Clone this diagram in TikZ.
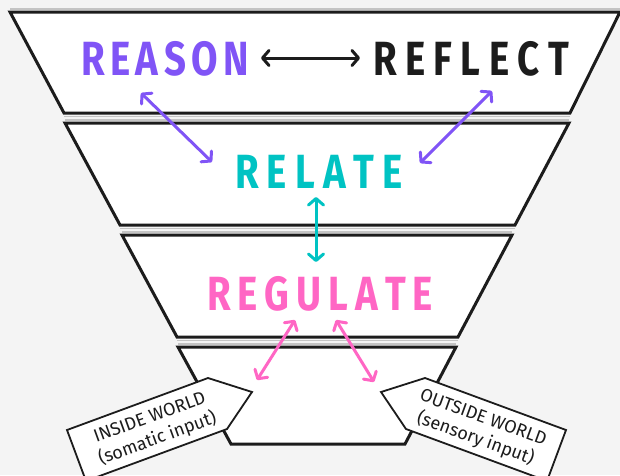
\documentclass[tikz,border=0pt]{standalone}
\usepackage{fontspec}
\usepackage{graphicx}
\usetikzlibrary{arrows.meta}
\newfontfamily\bigfont{Fira Sans}
\newfontfamily\tagfont{Fira Sans}
\definecolor{bgc}{HTML}{F4F4F4}
\definecolor{ink}{HTML}{1C1C1C}
\definecolor{cpurple}{HTML}{8054F6}
\definecolor{cteal}{HTML}{00C3C3}
\definecolor{cpink}{HTML}{FF66C4}
\definecolor{shade}{HTML}{C4C4C4}
\def\gobbleone#1{}
\def\firstone#1{#1}
\def\spl#1#2{\ifx\relax#2\expandafter\gobbleone\else\expandafter\firstone\fi{\scalebox{#1}[1]{#2}\hfill\spl{#1}}}
\newcommand\spw[3]{\hbox to #1{\spl{#2}#3\relax\unskip}}
\begin{document}
\begin{tikzpicture}[x=1pt,y=-1pt,
  band/.style={draw=ink,fill=white,line width=3pt,line join=miter},
  shadeline/.style={draw=shade,line width=1.2pt},
  lbl/.style={inner sep=0pt,outer sep=0pt,anchor=center,font=\bigfont\bfseries\fontsize{48}{48}\selectfont},
  arr/.style={line width=3pt,line cap=round,arrows={Straight Barb[round,length=6.5pt,width=15pt]-Straight Barb[round,length=6.5pt,width=15pt]}},
  tagbox/.style={draw=ink,fill=white,line width=1.8pt,line join=miter},
  tagtxt/.style={align=center,inner sep=0pt,text=ink,font=\tagfont\fontsize{18}{22.5}\selectfont}]
\useasboundingbox (0,0) rectangle (620,475);
\fill[bgc] (0,0) rectangle (620,475);
\clip (0,0) rectangle (620,475);
% shade lines
\draw[shadeline] (10,9) -- (620,9);
\draw[shadeline] (64,116.5) -- (570,116.5);
\draw[shadeline] (65,120) -- (569,120);
\draw[shadeline] (120,228.5) -- (515,228.5);
\draw[shadeline] (122,232) -- (512,232);
\draw[shadeline] (177,340.5) -- (458,340.5);
\draw[shadeline] (178,344) -- (456,344);
% funnel bands
\draw[band] (10,12) -- (620,12) -- (570,113) -- (64,113) -- cycle;
\draw[band] (65,123) -- (569,123) -- (515,225) -- (120,225) -- cycle;
\draw[band] (122,235) -- (512,235) -- (458,337) -- (177,337) -- cycle;
\draw[band] (178,347) -- (456,347) -- (405,444) -- (231,444) -- cycle;
% labels
\node[lbl,text=cpurple] (reason) at (165,58.5) {\spw{168pt}{0.8}{REASON}};
\node[lbl,text=ink] (reflect) at (471,58.5) {\spw{196pt}{0.8}{REFLECT}};
\node[lbl,text=cteal] (relate) at (319,171.5) {\spw{168pt}{0.8}{RELATE}};
\node[lbl,text=cpink] (regulate) at (320,293.5) {\spw{226pt}{0.8}{REGULATE}};
% arrow end points
\coordinate (rs1) at (261,58);
\coordinate (rf1) at (360,58);
\coordinate (rs2) at (141,93);
\coordinate (rl1) at (212,162);
\coordinate (rf2) at (492,91);
\coordinate (rl2) at (420,163);
\coordinate (rl3) at (316,197);
\coordinate (rg1) at (316,262);
\coordinate (rg2) at (295,320);
\coordinate (in1) at (257,380);
\coordinate (rg3) at (336,320);
\coordinate (out1) at (374,382);
\draw[arr,ink] (rs1) -- (rf1);
\draw[arr,cpurple] (rs2) -- (rl1);
\draw[arr,cpurple] (rf2) -- (rl2);
\draw[arr,cteal] (rl3) -- (rg1);
\draw[arr,cpink] (rg2) -- (in1);
\draw[arr,cpink] (rg3) -- (out1);
% tags
\draw[tagbox] (67,430) -- (208,378) -- (252,392) -- (227,429) -- (86,481) -- cycle;
\draw[tagbox] (566,430) -- (425,378) -- (381,392) -- (406,429) -- (547,481) -- cycle;
\node[tagtxt,rotate=20] (inside) at (154,429) {INSIDE WORLD\\(somatic input)};
\node[tagtxt,rotate=-20] (outside) at (479,429) {OUTSIDE WORLD\\(sensory input)};
\end{tikzpicture}
\end{document}
